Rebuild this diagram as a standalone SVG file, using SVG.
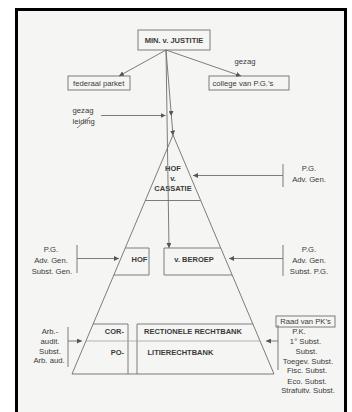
<svg xmlns="http://www.w3.org/2000/svg" width="352" height="412" viewBox="0 0 352 412">
<style>
  text { font-family: "Liberation Sans", Arial, sans-serif; fill: #3a3a3a; }
  .b { font-weight: bold; font-size: 7.5px; }
  .r { font-size: 7.7px; }
  .c { text-anchor: middle; }
  .e { text-anchor: end; }
  .ln { stroke: #6e6e6e; stroke-width: 0.9; fill: none; }
  .lt { stroke: #9a9a9a; stroke-width: 0.7; fill: none; }
  .box { stroke: #707070; stroke-width: 0.9; fill: none; }
</style>
<defs>
  <marker id="ah" markerUnits="userSpaceOnUse" markerWidth="6" markerHeight="5" refX="5" refY="2.5" orient="auto">
    <path d="M0,0 L5,2.5 L0,5 Z" fill="#555"/>
  </marker>
</defs>
<rect x="0" y="0" width="352" height="412" fill="#ffffff"/>
<rect x="16.5" y="9.5" width="329" height="420" fill="#f5f5f3" stroke="#000" stroke-width="3"/>

<g id="pyramid">
  <path class="ln" d="M72,374 L173,135 L274,374"/>
  <line class="ln" x1="72" y1="374" x2="274" y2="374"/>
</g>

<g id="min">
  <rect class="box" x="138" y="30" width="72" height="20"/>
  <text class="b c" x="174" y="42.7">MIN. v. JUSTITIE</text>
</g>

<g id="federaal">
  <rect class="box" x="68" y="76" width="62" height="14"/>
  <text class="r" x="73" y="85.8" font-size="8">federaal parket</text>
</g>

<g id="college">
  <rect class="box" x="209" y="76" width="80" height="14"/>
  <text class="r" x="212.5" y="85.8">college van P.G.’s</text>
</g>

<g id="gezag-label">
  <text class="r c" x="245" y="63.5">gezag</text>
</g>

<g id="gezag-leiding">
  <text class="r" x="72.5" y="113">gezag</text>
  <text class="r" x="72.5" y="123.5">leiding</text>
  <line class="ln" x1="77" y1="128" x2="90" y2="117"/>
</g>

<g id="cassatie">
  <line class="ln" x1="145.5" y1="200.5" x2="200.5" y2="200.5"/>
  <text class="b c" x="173" y="170.6">HOF</text>
  <text class="b c" x="173" y="180.6">v.</text>
  <text class="b c" x="173" y="190.6">CASSATIE</text>
</g>

<g id="hof">
  <path class="box" d="M125.2,248 L149,248 L149,275 L113.8,275"/>
  <text class="b c" x="139.5" y="261.6">HOF</text>
</g>

<g id="beroep">
  <path class="box" d="M220.8,248 L164,248 L164,275 L232.2,275"/>
  <text class="b c" x="194" y="261.6">v. BEROEP</text>
</g>

<g id="raad">
  <rect class="box" x="276" y="316" width="59" height="11"/>
  <text class="r c" x="305.5" y="324.3">Raad van PK’s</text>
</g>

<g id="correctionele">
  <line class="box" x1="93.1" y1="324" x2="128" y2="324"/>
  <line class="box" x1="137" y1="324" x2="252.9" y2="324"/>
  <line class="box" x1="128" y1="324" x2="128" y2="374"/>
  <line class="box" x1="137" y1="324" x2="137" y2="374"/>
  <line class="lt" x1="86" y1="341" x2="260" y2="341"/>
  <text class="b e" x="124" y="334">COR-</text>
  <text class="b e" x="124" y="354.5">PO-</text>
  <text class="b" x="144" y="334">RECTIONELE RECHTBANK</text>
  <text class="b" x="147.5" y="354.5">LITIERECHTBANK</text>
</g>

<g id="pg-cassatie">
  <text class="r c" x="309" y="170.5">P.G.</text>
  <text class="r c" x="309" y="181.5">Adv. Gen.</text>
</g>

<g id="pg-hof">
  <text class="r c" x="51" y="251.5">P.G.</text>
  <text class="r c" x="51" y="262.5">Adv. Gen.</text>
  <text class="r c" x="52" y="273.5">Subst. Gen.</text>
</g>

<g id="pg-beroep">
  <text class="r c" x="309" y="251.5">P.G.</text>
  <text class="r c" x="309" y="262.5">Adv. Gen.</text>
  <text class="r c" x="309" y="273.5">Subst. P.G.</text>
</g>

<g id="arbeid">
  <text class="r c" x="50" y="333.5">Arb.-</text>
  <text class="r c" x="50" y="343.5">audit.</text>
  <text class="r c" x="50" y="353.5">Subst.</text>
  <text class="r c" x="49" y="363">Arb. aud.</text>
</g>

<g id="pk">
  <text class="r c" x="299" y="333.5">P.K.</text>
  <text class="r c" x="305.5" y="343.5">1° Subst.</text>
  <text class="r c" x="306.5" y="353.5">Subst.</text>
  <text class="r c" x="308" y="363.5">Toegev. Subst.</text>
  <text class="r c" x="307" y="373">Fisc. Subst.</text>
  <text class="r c" x="307" y="383.5">Eco. Subst.</text>
  <text class="r c" x="308" y="393">Strafuitv. Subst.</text>
</g>

<g id="connectors">
  <line class="ln" x1="166" y1="50" x2="119" y2="76" marker-end="url(#ah)"/>
  <line class="ln" x1="166" y1="50" x2="241" y2="76" marker-end="url(#ah)"/>
  <line class="ln" x1="166" y1="50" x2="169" y2="248" marker-end="url(#ah)"/>
  <line class="ln" x1="166" y1="50" x2="171.4" y2="116" marker-end="url(#ah)"/>
  <line class="ln" x1="171.4" y1="116" x2="173" y2="135.5" marker-end="url(#ah)"/>
  <line class="ln" x1="101" y1="115.5" x2="165.5" y2="115.5" marker-end="url(#ah)"/>

  <line class="ln" x1="283" y1="164" x2="283" y2="187"/>
  <line class="ln" x1="283" y1="175.5" x2="193" y2="175.5" marker-end="url(#ah)"/>

  <line class="ln" x1="77" y1="245" x2="77" y2="273"/>
  <line class="ln" x1="77" y1="258.5" x2="119" y2="258.5" marker-end="url(#ah)"/>

  <line class="ln" x1="283" y1="245" x2="283" y2="276"/>
  <line class="ln" x1="283" y1="258.5" x2="229" y2="258.5" marker-end="url(#ah)"/>

  <line class="ln" x1="68" y1="327" x2="68" y2="367"/>
  <line class="ln" x1="68" y1="341" x2="82" y2="341" marker-end="url(#ah)"/>

  <line class="ln" x1="278" y1="325" x2="278" y2="370"/>
  <line class="ln" x1="278" y1="341" x2="266" y2="341" marker-end="url(#ah)"/>
</g>
</svg>
